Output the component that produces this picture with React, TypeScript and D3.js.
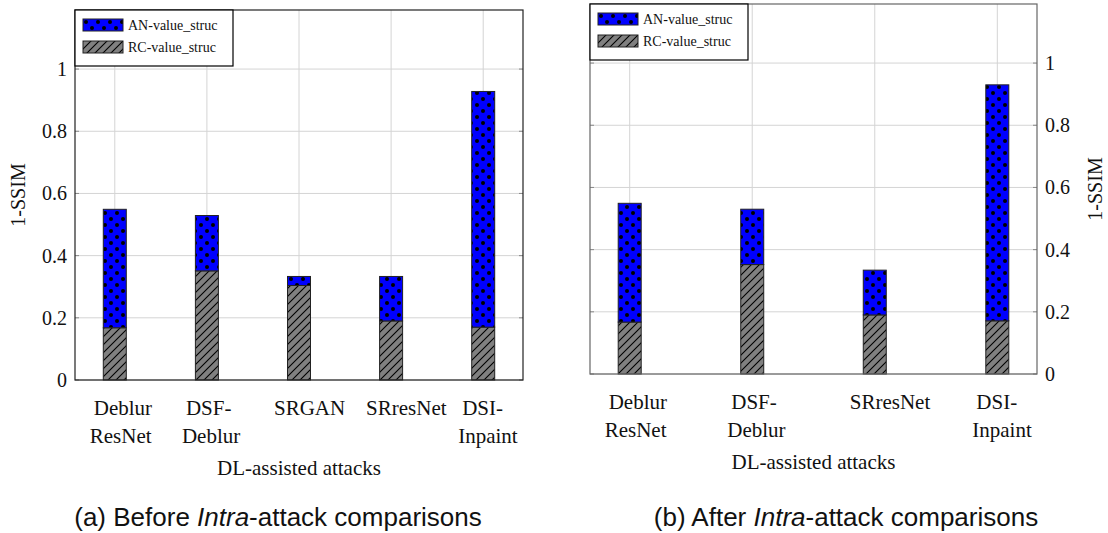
import React from "react";
import * as d3 from "d3";

// Two stacked bar charts (1-SSIM per DL-assisted attack), before / after intra-attack comparisons.
const catsBefore = ["Deblur\nResNet", "DSF-\nDeblur", "SRGAN", "SRresNet", "DSI-\nInpaint"];
const rcBefore = [0.168, 0.351, 0.304, 0.19, 0.17];
const anBefore = [0.381, 0.178, 0.029, 0.143, 0.758];

const catsAfter = ["Deblur\nResNet", "DSF-\nDeblur", "SRresNet", "DSI-\nInpaint"];
const rcAfter = [0.167, 0.352, 0.19, 0.171];
const anAfter = [0.382, 0.178, 0.144, 0.759];

const yTicks = [0, 0.2, 0.4, 0.6, 0.8, 1];
const legendLabels = ["AN-value_struc", "RC-value_struc"];

const SERIF = "'Liberation Serif', serif";
const SANS = "'Liberation Sans', Arial, sans-serif";

type ChartProps = {
  cats: string[];
  rc: number[];
  an: number[];
  left: number;
  right: number;
  top: number;
  bottom: number;
  axisSide: "left" | "right";
  stroke: string;
};

function StackChart({ cats, rc, an, left, right, top, bottom, axisSide, stroke }: ChartProps) {
  const n = cats.length;
  const e = 0.108 * (n - 1);
  const x = d3.scaleLinear().domain([-e, n - 1 + e]).range([left, right]);
  const y = d3.scaleLinear().domain([0, 1.19]).range([bottom, top]);
  const bw = 23;
  const labelX = axisSide === "left" ? left - 8 : right + 8;
  const legW = 158;
  const legH = 56;
  const txt = { fontFamily: SERIF, fill: "#111" };

  return (
    <g>
      {/* grid */}
      {yTicks.map((t) => (
        <line key={"gy" + t} x1={left} x2={right} y1={y(t)} y2={y(t)} stroke="#d4d4d4" strokeWidth={1} />
      ))}
      {cats.map((c, i) => (
        <line key={"gx" + i} x1={x(i)} x2={x(i)} y1={top} y2={bottom} stroke="#d4d4d4" strokeWidth={1} />
      ))}
      {/* ticks */}
      {yTicks.map((t) => (
        <g key={"ty" + t}>
          <line x1={left} x2={left + 4} y1={y(t)} y2={y(t)} stroke="#888" />
          <line x1={right - 4} x2={right} y1={y(t)} y2={y(t)} stroke="#888" />
        </g>
      ))}
      {/* bars */}
      {cats.map((c, i) => (
        <g key={"b" + i}>
          <rect
            x={x(i) - bw / 2}
            y={y(rc[i])}
            width={bw}
            height={y(0) - y(rc[i])}
            fill="url(#hatch)"
            stroke="#222"
            strokeWidth={1}
          />
          <rect
            x={x(i) - bw / 2}
            y={y(rc[i] + an[i])}
            width={bw}
            height={y(rc[i]) - y(rc[i] + an[i])}
            fill="url(#dots)"
            stroke="#222"
            strokeWidth={1}
          />
        </g>
      ))}
      {/* frame */}
      <rect x={left} y={top} width={right - left} height={bottom - top} fill="none" stroke={stroke} strokeWidth={1.2} />
      {/* y tick labels */}
      {yTicks.map((t) => (
        <text
          key={"yl" + t}
          x={labelX}
          y={y(t)}
          dy="0.35em"
          textAnchor={axisSide === "left" ? "end" : "start"}
          style={{ ...txt, fontSize: "20px" }}
        >
          {d3.format("~g")(t)}
        </text>
      ))}
      {/* x tick labels */}
      {cats.map((c, i) =>
        c.split("\n").map((line, j, arr) => (
          <text
            key={"xl" + i + "-" + j}
            x={x(i) - 25 + (arr.length > 1 && j === 0 ? 4 : 0)}
            y={bottom + 35 + j * 28}
            style={{ ...txt, fontSize: "21px" }}
          >
            {line}
          </text>
        ))
      )}
      <text x={(left + right) / 2} y={bottom + 95} textAnchor="middle" style={{ ...txt, fontSize: "21px" }}>
        DL-assisted attacks
      </text>
      <text
        transform={`translate(${axisSide === "left" ? left - 57 : right + 58},${(top + bottom) / 2}) rotate(-90)`}
        textAnchor="middle"
        dy="0.35em"
        style={{ ...txt, fontSize: "20px" }}
      >
        1-SSIM
      </text>
      {/* legend */}
      <g transform={`translate(${left},${top})`}>
        <rect x={0} y={0} width={legW} height={legH} fill="#fff" stroke="#000" strokeWidth={1.2} />
        {legendLabels.map((l, k) => (
          <g key={l} transform={`translate(8,${9 + k * 22})`}>
            <rect width={40} height={12} fill={k === 0 ? "url(#dots)" : "url(#hatch)"} stroke="#222" strokeWidth={1} />
            <text x={45} y={6} dy="0.35em" style={{ ...txt, fontSize: "14px" }}>
              {l}
            </text>
          </g>
        ))}
      </g>
    </g>
  );
}

export default function App() {
  return (
    <svg
      width={1108}
      height={533}
      style={{ position: "absolute", left: 0, top: 0, background: "#fff" }}
    >
      <defs>
        <pattern id="dots" patternUnits="userSpaceOnUse" width={12} height={12}>
          <rect width={12} height={12} fill="#0000ff" />
          <circle cx={3} cy={3} r={2} fill="#000" />
          <circle cx={9} cy={9} r={2} fill="#000" />
        </pattern>
        <pattern id="hatch" patternUnits="userSpaceOnUse" width={8} height={8}>
          <rect width={8} height={8} fill="#808080" />
          <path d="M-1,1 l2,-2 M0,8 l8,-8 M7,9 l2,-2" stroke="#000" strokeWidth={1.1} />
        </pattern>
      </defs>
      <StackChart
        cats={catsBefore}
        rc={rcBefore}
        an={anBefore}
        left={75}
        right={523}
        top={10}
        bottom={380}
        axisSide="left"
        stroke="#222"
      />
      <StackChart
        cats={catsAfter}
        rc={rcAfter}
        an={anAfter}
        left={590}
        right={1037}
        top={4}
        bottom={374}
        axisSide="right"
        stroke="#666"
      />
      <text x={278} y={526} textAnchor="middle" style={{ fontFamily: SANS, fontSize: "26px", fill: "#111" }}>
        (a) Before <tspan fontStyle="italic">Intra</tspan>-attack comparisons
      </text>
      <text x={846} y={526} textAnchor="middle" style={{ fontFamily: SANS, fontSize: "26px", fill: "#111" }}>
        (b) After <tspan fontStyle="italic">Intra</tspan>-attack comparisons
      </text>
    </svg>
  );
}
